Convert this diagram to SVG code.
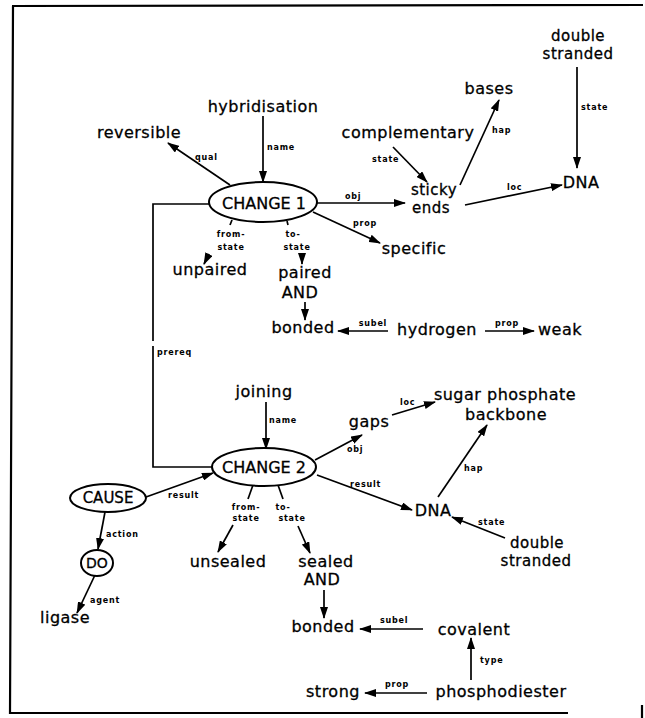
<svg xmlns="http://www.w3.org/2000/svg" width="645" height="718" viewBox="0 0 645 718">
<style>
.t{font-family:"DejaVu Sans",sans-serif;font-size:16px;letter-spacing:0.5px;text-anchor:middle;fill:#000;stroke:#000;stroke-width:0.3}
.s{font-size:15px}
.c{font-family:"DejaVu Sans",sans-serif;font-size:16px;text-anchor:middle;fill:#000;stroke:#000;stroke-width:0.3}
.l{font-family:"DejaVu Sans",sans-serif;font-size:8px;font-weight:bold;letter-spacing:0.8px;fill:#000}
.m{text-anchor:middle}
.e{fill:none;stroke:#000;stroke-width:1.7}
.n{fill:#fff;stroke:#000;stroke-width:2}
.b{fill:none;stroke:#000;stroke-width:2.2}
</style>
<defs>
<marker id="ah" markerWidth="12" markerHeight="8" refX="11" refY="4" orient="auto" markerUnits="userSpaceOnUse"><path d="M0,0 L12,4 L0,8 z" fill="#000"/></marker>
</defs>
<rect width="645" height="718" fill="#fff"/>
<g id="border">
<path class="b" d="M12,6 L643,5 M13,6 L10,713 L568,713 M642,705 L642,718"/>
</g>
<g id="connectors">
<path class="e" d="M263,116 L263,182" marker-end="url(#ah)"/>
<path class="e" d="M230,185 L168,143" marker-end="url(#ah)"/>
<path class="e" d="M317,203 L405,203" marker-end="url(#ah)"/>
<path class="e" d="M313,212 L380,243" marker-end="url(#ah)"/>
<path class="e" d="M393,147 L427,182" marker-end="url(#ah)"/>
<path class="e" d="M460,185 L499,100" marker-end="url(#ah)"/>
<path class="e" d="M465,205 L562,185" marker-end="url(#ah)"/>
<path class="e" d="M577,67 L577,168" marker-end="url(#ah)"/>
<path class="e" d="M209,204 H153 V341 M153,346 V467 H212"/>
<path class="e" d="M232,220 L230,225"/>
<path class="e" d="M209,254 L204,264" marker-end="url(#ah)"/>
<path class="e" d="M287,221 L288,225"/>
<path class="e" d="M302,255 L302,264" marker-end="url(#ah)"/>
<path class="e" d="M305,302 L305,320" marker-end="url(#ah)"/>
<path class="e" d="M388,331 L338,331" marker-end="url(#ah)"/>
<path class="e" d="M485,331 L534,331" marker-end="url(#ah)"/>
<path class="e" d="M266,402 L266,449" marker-end="url(#ah)"/>
<path class="e" d="M392,415 L435,402" marker-end="url(#ah)"/>
<path class="e" d="M315,460 L362,435" marker-end="url(#ah)"/>
<path class="e" d="M317,475 L412,510" marker-end="url(#ah)"/>
<path class="e" d="M438,497 L487,425" marker-end="url(#ah)"/>
<path class="e" d="M505,538 L452,517" marker-end="url(#ah)"/>
<path class="e" d="M146,497 L213,473" marker-end="url(#ah)"/>
<path class="e" d="M105,512 L98,549" marker-end="url(#ah)"/>
<path class="e" d="M95,575 L77,613" marker-end="url(#ah)"/>
<path class="e" d="M253,485 L248,499"/>
<path class="e" d="M233,525 L218,552" marker-end="url(#ah)"/>
<path class="e" d="M278,485 L283,499"/>
<path class="e" d="M298,526 L310,553" marker-end="url(#ah)"/>
<path class="e" d="M324,590 L324,618" marker-end="url(#ah)"/>
<path class="e" d="M423,629 L360,629" marker-end="url(#ah)"/>
<path class="e" d="M471,680 L471,638" marker-end="url(#ah)"/>
<path class="e" d="M427,693 L365,693" marker-end="url(#ah)"/>
<text class="l" x="267" y="150">name</text>
<text class="l" x="195" y="160">qual</text>
<text class="l" x="581" y="110">state</text>
<text class="l" x="492" y="133">hap</text>
<text class="l" x="372" y="162">state</text>
<text class="l" x="345" y="199">obj</text>
<text class="l" x="507" y="190">loc</text>
<text class="l" x="353" y="226">prop</text>
<text class="l m" x="231" y="237">from-</text>
<text class="l m" x="231" y="250">state</text>
<text class="l m" x="293" y="237">to-</text>
<text class="l m" x="297" y="250">state</text>
<text class="l m" x="373" y="326">subel</text>
<text class="l m" x="507" y="326">prop</text>
<text class="l" x="157" y="355">prereq</text>
<text class="l" x="400" y="405">loc</text>
<text class="l" x="269" y="423">name</text>
<text class="l" x="347" y="452">obj</text>
<text class="l" x="350" y="487">result</text>
<text class="l" x="464" y="471">hap</text>
<text class="l" x="478" y="525">state</text>
<text class="l" x="168" y="498">result</text>
<text class="l" x="106" y="537">action</text>
<text class="l m" x="246" y="510">from-</text>
<text class="l m" x="246" y="521">state</text>
<text class="l m" x="283" y="510">to-</text>
<text class="l m" x="292" y="521">state</text>
<text class="l" x="90" y="603">agent</text>
<text class="l" x="380" y="623">subel</text>
<text class="l" x="480" y="663">type</text>
<text class="l" x="385" y="687">prop</text>
</g>
<g id="hybridisation"><text class="t" x="263" y="112">hybridisation</text></g>
<g id="reversible"><text class="t" x="139" y="138">reversible</text></g>
<g id="change1"><ellipse class="n" cx="263" cy="202" rx="54" ry="20"/><text class="c" x="264" y="209">CHANGE 1</text></g>
<g id="double-stranded-1"><text class="t s" x="578" y="41">double</text><text class="t s" x="578" y="59">stranded</text></g>
<g id="bases"><text class="t" x="489" y="94">bases</text></g>
<g id="complementary"><text class="t" x="408" y="138">complementary</text></g>
<g id="sticky-ends"><text class="t s" x="434" y="195">sticky</text><text class="t s" x="431" y="213">ends</text></g>
<g id="dna-1"><text class="t" x="581" y="188">DNA</text></g>
<g id="specific"><text class="t" x="414" y="254">specific</text></g>
<g id="unpaired"><text class="t" x="210" y="275">unpaired</text></g>
<g id="paired"><text class="t" x="305" y="278">paired</text><text class="t" x="300" y="298">AND</text></g>
<g id="bonded-1"><text class="t" x="303" y="333">bonded</text></g>
<g id="hydrogen"><text class="t" x="437" y="335">hydrogen</text></g>
<g id="weak"><text class="t" x="560" y="335">weak</text></g>
<g id="sugar-phosphate"><text class="t" x="505" y="400">sugar phosphate</text><text class="t" x="506" y="420">backbone</text></g>
<g id="joining"><text class="t" x="264" y="397">joining</text></g>
<g id="gaps"><text class="t" x="369" y="427">gaps</text></g>
<g id="change2"><ellipse class="n" cx="264" cy="467" rx="52" ry="19"/><text class="c" x="264" y="473">CHANGE 2</text></g>
<g id="cause"><ellipse class="n" cx="108" cy="498" rx="38" ry="14"/><text class="c" x="108" y="503" style="font-size:15px">CAUSE</text></g>
<g id="do"><ellipse class="n" cx="97" cy="563" rx="16" ry="13"/><text class="c" x="97" y="568" style="font-size:14px">DO</text></g>
<g id="dna-2"><text class="t" x="433" y="516">DNA</text></g>
<g id="double-stranded-2"><text class="t s" x="537" y="548">double</text><text class="t s" x="536" y="566">stranded</text></g>
<g id="unsealed"><text class="t" x="228" y="567">unsealed</text></g>
<g id="sealed"><text class="t" x="326" y="567">sealed</text><text class="t" x="322" y="585">AND</text></g>
<g id="bonded-2"><text class="t" x="323" y="632">bonded</text></g>
<g id="covalent"><text class="t" x="474" y="635">covalent</text></g>
<g id="ligase"><text class="t" x="65" y="623">ligase</text></g>
<g id="strong"><text class="t" x="333" y="697">strong</text></g>
<g id="phosphodiester"><text class="t" x="501" y="697">phosphodiester</text></g>
</svg>
